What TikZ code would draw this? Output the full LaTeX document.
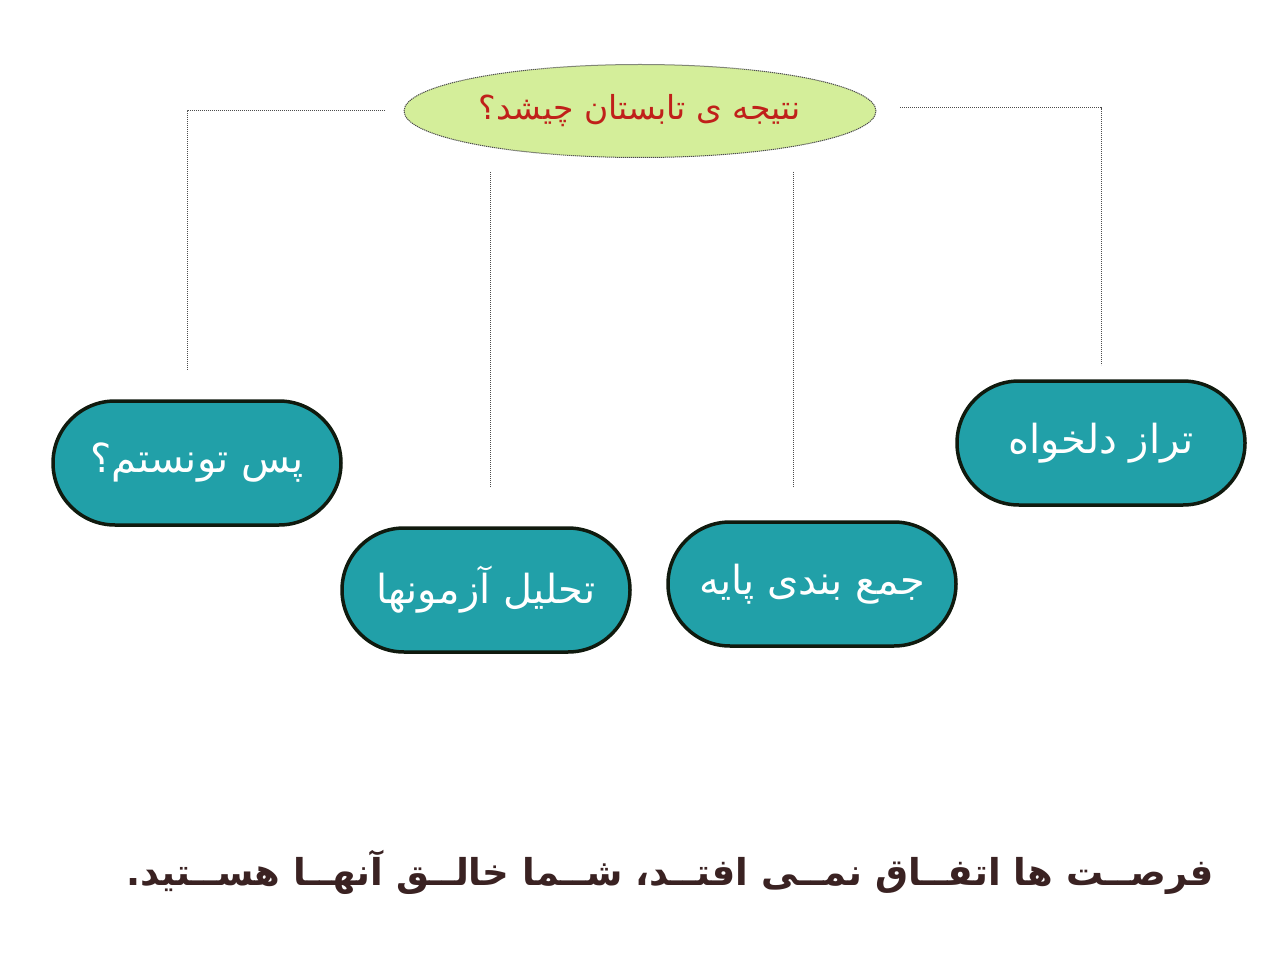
\documentclass[tikz,border=0pt]{standalone}
\usepackage{fontspec}
\usetikzlibrary{shapes.geometric}
\TeXXeTstate=1
\newfontfamily\arabicfont[Script=Arabic]{DejaVu Sans}
\definecolor{teal1}{HTML}{21A0A8}
\definecolor{edge1}{HTML}{101A0E}
\definecolor{ellfill}{HTML}{D4EE9A}
\definecolor{redtxt}{HTML}{C0201A}
\definecolor{browntxt}{HTML}{3A2222}
\tikzset{
  pill/.style={rectangle, rounded corners=62pt, draw=edge1, line width=3.5pt, fill=teal1,
    minimum width=288pt, minimum height=124pt, text=white, font=\arabicfont\fontsize{40}{46}\selectfont},
  link/.style={draw=gray!60!black, line width=1pt, dash pattern=on 1.2pt off 0.8pt},
}
\begin{document}
\begin{tikzpicture}[x=1pt,y=-1pt]
\useasboundingbox[fill=white] (0,0) rectangle (1280,960);
\node[ellipse, draw=gray!60!black, dash pattern=on 1.2pt off 0.8pt, line width=1pt, fill=ellfill,
  minimum width=472pt, minimum height=93pt, text=redtxt, font=\arabicfont\fontsize{33}{38}\selectfont]
  (q) at (640,111) {\beginR نتیجه ی تابستان چیشد؟\endR};
\node[pill] (b1) at (197,463) {\beginR پس تونستم؟\endR};
\node[pill] (b2) at (486,590) {\beginR تحلیل آزمونها\endR};
\node[pill] (b3) at (812,584) {\beginR جمع بندی پایه\endR};
\node[pill] (b4) at (1101,443) {\beginR تراز دلخواه\endR};
\coordinate (la) at (385,111);
\coordinate (lb) at (187,111);
\coordinate (lc) at (187,370);
\coordinate (ra) at (900,108);
\coordinate (rb) at (1101,108);
\coordinate (rc) at (1101,365);
\coordinate (m1a) at (490,172);
\coordinate (m1b) at (490,487);
\coordinate (m2a) at (793,172);
\coordinate (m2b) at (793,487);
\draw[link] (la) -- (lb) -- (lc);
\draw[link] (ra) -- (rb) -- (rc);
\draw[link] (m1a) -- (m1b);
\draw[link] (m2a) -- (m2b);
\node[text=browntxt, font=\arabicfont\bfseries\fontsize{37}{42}\selectfont] (t) at (670,872)
  {\beginR فرصــت ها اتفــاق نمــی افتــد، شــما خالــق آنهــا هســتید.\endR};
\end{tikzpicture}
\end{document}
